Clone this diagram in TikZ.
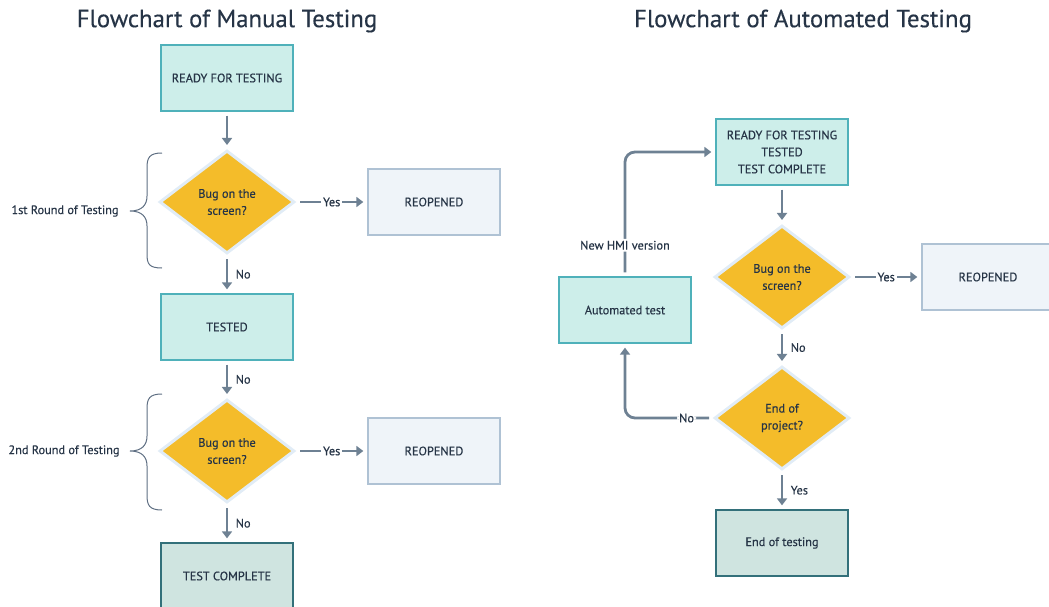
\documentclass[tikz,border=0pt]{standalone}
\usepackage{fontspec}
\setmainfont{PT Sans}[FakeBold=0.35]
\usetikzlibrary{shapes.geometric,arrows.meta}
\definecolor{ink}{HTML}{263446}
\definecolor{wire}{HTML}{6E8193}
\definecolor{tealfill}{HTML}{CDEEEA}
\definecolor{tealline}{HTML}{4FB1BA}
\definecolor{darkfill}{HTML}{CFE4E0}
\definecolor{darkline}{HTML}{33707A}
\definecolor{greyfill}{HTML}{EFF4F9}
\definecolor{greyline}{HTML}{AFC2D4}
\definecolor{amber}{HTML}{F4BC2A}
\definecolor{halo}{HTML}{E1ECF6}
\definecolor{bracecol}{HTML}{5E6E82}
\begin{document}
\begin{tikzpicture}[x=1pt,y=-1pt,
  font=\fontsize{12.3}{17}\selectfont, text=ink,
  box/.style={rectangle, minimum width=132pt, minimum height=66pt,
    inner sep=2pt, align=center, line width=1.3pt},
  stagebox/.style={box, fill=tealfill, draw=tealline},
  endbox/.style={box, fill=darkfill, draw=darkline},
  reopenbox/.style={box, fill=greyfill, draw=greyline},
  decision/.style={diamond, aspect=1.32, minimum width=135pt,
    minimum height=103pt, inner sep=0pt, fill=amber, draw=halo,
    line width=3pt, align=center},
  flow/.style={draw=wire, line width=2.8pt,
    -{Triangle[length=7pt,width=10pt]}, shorten <=4pt, shorten >=4pt},
  lbl/.style={fill=white, inner sep=2pt, text=ink},
  sidelbl/.style={right, xshift=4pt, text=ink},
  title/.style={font=\fontsize{24.8}{28}\selectfont, text=ink},
  roundlbl/.style={text=ink},
  bracket/.style={draw=bracecol, line width=1pt}]
\useasboundingbox (0,0) rectangle (1049,607);

% ---------- manual testing ----------
\node[title] (t1) at (227,21) {Flowchart of Manual Testing};
\node[stagebox] (m1) at (227,78) {READY FOR TESTING};
\node[decision] (q1) at (227,202) {Bug on the\\screen?};
\node[reopenbox] (r1) at (434,202) {REOPENED};
\node[stagebox] (m2) at (227,327) {TESTED};
\node[decision] (q2) at (227,451) {Bug on the\\screen?};
\node[reopenbox] (r2) at (434,451) {REOPENED};
\node[endbox] (m3) at (227,576) {TEST COMPLETE};

\draw[flow] (m1) -- (q1);
\draw[flow] (q1) -- node[lbl] {Yes} (r1);
\draw[flow] (q1) -- node[sidelbl] {No} (m2);
\draw[flow] (m2) -- node[sidelbl] {No} (q2);
\draw[flow] (q2) -- node[lbl] {Yes} (r2);
\draw[flow] (q2) -- node[sidelbl] {No} (m3);

% round brackets
\node[roundlbl] (b1) at (65,211) {1st Round of Testing};
\node[roundlbl] (b2) at (64,451) {2nd Round of Testing};
\draw[bracket] (162,153) .. controls (149,153) and (147,158) .. (147,168)
  -- (147,196) .. controls (147,205) and (142,211) .. (130,211)
  .. controls (142,211) and (147,217) .. (147,226)
  -- (147,254) .. controls (147,264) and (149,268) .. (162,268);
\draw[bracket] (162,394) .. controls (149,394) and (147,399) .. (147,409)
  -- (147,436) .. controls (147,445) and (142,451) .. (130,451)
  .. controls (142,451) and (147,457) .. (147,466)
  -- (147,495) .. controls (147,505) and (149,510) .. (162,510);

% ---------- automated testing ----------
\node[title] (t2) at (803,21) {Flowchart of Automated Testing};
\node[stagebox] (a1) at (782,152) {READY FOR TESTING\\TESTED\\TEST COMPLETE};
\node[decision] (q3) at (782,277) {Bug on the\\screen?};
\node[reopenbox] (r3) at (988,277) {REOPENED};
\node[decision] (q4) at (782,418) {End of\\project?};
\node[endbox] (a2) at (782,543) {End of testing};
\node[stagebox] (at) at (625,310) {Automated test};

\draw[flow] (a1) -- (q3);
\draw[flow] (q3) -- node[lbl] {Yes} (r3);
\draw[flow] (q3) -- node[sidelbl] {No} (q4);
\draw[flow] (q4) -- node[sidelbl] {Yes} (a2);
\draw[flow, rounded corners=10pt] (q4.west) -- node[lbl, pos=0.3] {No}
  (at.south |- q4.west) -- (at.south);
\draw[flow, rounded corners=10pt] (at.north) -- node[lbl, pos=0.25] {New HMI version}
  (at.north |- a1.west) -- (a1.west);
\end{tikzpicture}
\end{document}
